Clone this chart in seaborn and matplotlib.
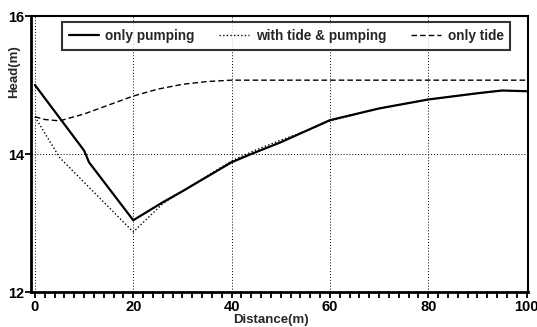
import numpy as np
import pandas as pd
import matplotlib
matplotlib.use("Agg")
import matplotlib.pyplot as plt
import seaborn as sns
from matplotlib.ticker import MultipleLocator, NullLocator, FixedLocator

# ---- data ----
x_pump = [0, 10, 11, 20, 26, 30, 40, 44, 50, 60, 70, 80, 90, 95, 100]
h_pump = [15.0, 14.05, 13.88, 13.04, 13.3, 13.46, 13.88, 14.0, 14.17, 14.49, 14.66, 14.79, 14.88, 14.92, 14.91]

x_both = [0, 5, 10, 15, 20, 26, 30, 40, 45, 50, 55, 60, 70, 80, 90, 95, 100]
h_both = [14.54, 13.95, 13.59, 13.23, 12.87, 13.28, 13.46, 13.9, 14.06, 14.2, 14.33, 14.48, 14.66, 14.79, 14.88, 14.92, 14.91]

x_tide = [0, 2, 5, 10, 15, 20, 25, 30, 35, 40, 50, 60, 70, 80, 90, 100]
h_tide = [14.54, 14.5, 14.48, 14.58, 14.71, 14.84, 14.94, 15.01, 15.05, 15.07, 15.07, 15.07, 15.07, 15.07, 15.07, 15.07]

labels = ["only pumping", "with tide & pumping", "only tide"]
x_ticks = [0, 20, 40, 60, 80, 100]
y_ticks = [12, 14, 16]

sns.set_theme(style="ticks", rc={
    "xtick.direction": "out", "ytick.direction": "out",
    "xtick.major.size": 4, "xtick.minor.size": 4,
    "xtick.major.width": 1.3, "xtick.minor.width": 1.3,
    "ytick.major.size": 4, "ytick.major.width": 1.3,
    "xtick.color": "black", "ytick.color": "black",
    "xtick.labelcolor": "black", "ytick.labelcolor": "black",
    "xtick.labelsize": 10.5, "ytick.labelsize": 10.5,
    "xtick.major.pad": 2, "ytick.major.pad": 1,
    "xtick.bottom": True, "ytick.left": True,
})
plt.rcParams["font.family"] = ["Liberation Sans", "DejaVu Sans"]

fig = plt.figure(figsize=(5.37, 3.27), dpi=100)
ax = fig.add_axes([31/537, 1 - 292/327, (528-31)/537, (292-16)/327])

sns.lineplot(x=x_pump, y=h_pump, ax=ax, color="black", lw=1.6, label=labels[0])
sns.lineplot(x=x_both, y=h_both, ax=ax, color="black", lw=1.0, label=labels[1],
             linestyle=(0, (1, 1.6)))
sns.lineplot(x=x_tide, y=h_tide, ax=ax, color="black", lw=1.0, label=labels[2],
             linestyle=(0, (4, 2.2)))

ax.set_xlim(-0.8, 100.3)
ax.set_ylim(12, 16)
ax.xaxis.set_major_locator(FixedLocator(x_ticks))
ax.yaxis.set_major_locator(FixedLocator(y_ticks))
ax.xaxis.set_minor_locator(MultipleLocator(2))
ax.yaxis.set_minor_locator(NullLocator())
for lab in ax.get_xticklabels() + ax.get_yticklabels():
    lab.set_fontweight("bold")

for xv in x_ticks:
    ax.axvline(xv, color="black", lw=0.7, linestyle=(0, (1, 2)), zorder=0.6)
ax.axhline(y_ticks[1], color="black", lw=0.7, linestyle=(0, (1, 2)), zorder=0.6)

for s in ax.spines.values():
    s.set_visible(True)
    s.set_color("black")
    s.set_linewidth(1.5)
ax.spines["left"].set_linewidth(2.0)
ax.spines["bottom"].set_linewidth(2.0)

ax.set_xlabel("Distance(m)", fontsize=9.5, fontweight="bold")
ax.set_ylabel("Head(m)", fontsize=9.5, fontweight="bold")
ax.xaxis.set_label_coords(0.483, -0.08)
ax.yaxis.set_label_coords(-0.022, 0.80)

leg = ax.legend(loc="upper left", bbox_to_anchor=(0.062, 0.978), borderaxespad=0,
                ncol=3, fontsize=9.8, frameon=True, fancybox=False,
                handlelength=2.2, handletextpad=0.5, columnspacing=1.8,
                borderpad=0.5)
leg.get_frame().set_edgecolor("black")
leg.get_frame().set_linewidth(1.5)
for t in leg.get_texts():
    t.set_fontweight("bold")

fig.savefig("out.png", dpi=100, facecolor="white")
